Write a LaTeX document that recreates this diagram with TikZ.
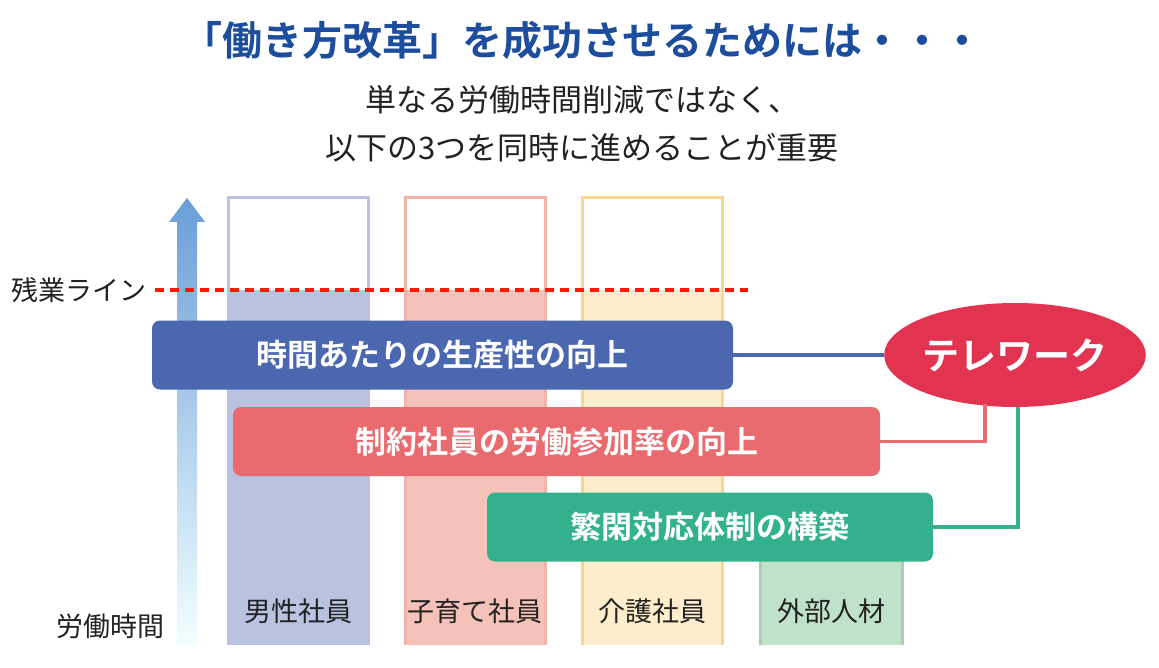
\documentclass[tikz,border=0pt]{standalone}
\usepackage{fontspec}
\setmainfont{Noto Sans CJK JP}
\newfontfamily\jpb{Noto Sans CJK JP Bold}
\usetikzlibrary{shapes.geometric}
\definecolor{ttl}{HTML}{1D4E9E}
\definecolor{bblue}{HTML}{4A67AF}
\definecolor{bred}{HTML}{E96B6F}
\definecolor{bgreen}{HTML}{33B18F}
\definecolor{tele}{HTML}{E23350}
\definecolor{c1}{HTML}{B9C3E0}
\definecolor{c2f}{HTML}{F5C2BA}
\definecolor{c2b}{HTML}{F2B2AA}
\definecolor{c3f}{HTML}{FDEDCC}
\definecolor{c3b}{HTML}{F9D58D}
\definecolor{c4f}{HTML}{C0E1CA}
\definecolor{c4b}{HTML}{A3D3B3}
\definecolor{txt}{HTML}{222222}
\tikzset{
 bar/.style={rounded corners=8pt,minimum height=69pt,text=white,font=\jpb\fontsize{31}{31}\selectfont},
 col/.style={line width=3pt},
 lbl/.style={font=\fontsize{27}{27}\selectfont,text=txt},
 conn/.style={line width=3.5pt}
}
\begin{document}
\begin{tikzpicture}[x=1pt,y=-1pt]
\useasboundingbox (0,0) rectangle (1159,668);
\fill[white] (0,0) rectangle (1159,668);
\node[font=\jpb\fontsize{40}{40}\selectfont,text=ttl] (title) at (582,40) {「働き方改革」を成功させるためには・・・};
\node[font=\fontsize{31}{31}\selectfont,text=txt] (s1) at (582,100) {単なる労働時間削減ではなく、};
\node[font=\fontsize{31}{31}\selectfont,text=txt] (s2) at (582,148) {以下の3つを同時に進めることが重要};
% arrow
\shade[bottom color=blue!3!cyan!5,top color={rgb,255:red,106;green,158;blue,216}]
 (177,645) -- (177,222) -- (169,222) -- (187,198) -- (205,222) -- (197,222) -- (197,645) -- cycle;
% columns
\fill[c1] (228,290) rectangle (368,645);
\draw[col,c1] (228,645) -- (228,198) -- (368,198) -- (368,645);
\fill[c2f] (405,290) rectangle (545,645);
\draw[col,c2b] (405,645) -- (405,198) -- (545,198) -- (545,645);
\fill[c3f] (582,290) rectangle (722,645);
\draw[col,c3b] (582,645) -- (582,198) -- (722,198) -- (722,645);
\fill[c4f] (760,556) rectangle (902,645);
\draw[col,c4b] (760,645) -- (760,556) -- (902,556) -- (902,645);
\node[lbl] (m1) at (298,611) {男性社員};
\node[lbl] (m2) at (475,611) {子育て社員};
\node[lbl] (m3) at (652,611) {介護社員};
\node[lbl] (m4) at (831,611) {外部人材};
\node[lbl] (lt) at (110,626) {労働時間};
\node[lbl] (zl) at (79,290) {残業ライン};
\coordinate (da) at (155,290); \coordinate (db) at (748,290);
\draw[line width=3.5pt,red!80!orange,dash pattern=on 9pt off 6pt] (da) -- (db);
% bars
\node[bar,fill=bblue,minimum width=581pt] (b1) at (442.5,355) {時間あたりの生産性の向上};
\node[bar,fill=bred,minimum width=647pt] (b2) at (556.5,441.5) {制約社員の労働参加率の向上};
\node[bar,fill=bgreen,minimum width=446pt] (b3) at (710,527) {繁閑対応体制の構築};
\node[ellipse,fill=tele,minimum width=252pt,minimum height=104pt,text=white,font=\jpb\fontsize{37}{37}\selectfont,inner sep=0pt] (tw) at (1015,355) {テレワーク};
\draw[conn,bblue] (b1.east) -- (tw.west);
\draw[conn,bred] (b2.east) -- (985,441.5) -- (985,404);
\draw[conn,bgreen] (b3.east) -- (1018,527) -- (1018,407);
\end{tikzpicture}
\end{document}
